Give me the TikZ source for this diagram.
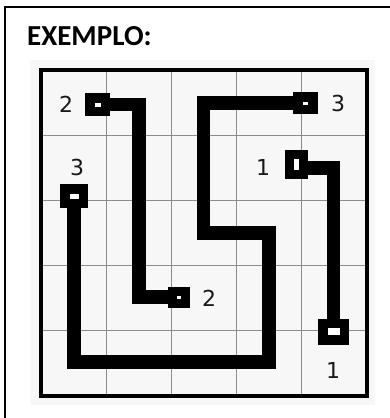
\documentclass[tikz,border=0pt]{standalone}
\usepackage{fontspec}
\setmainfont{Carlito}
\newfontfamily\digitfont{DejaVu Sans}
\begin{document}
\begin{tikzpicture}[x=1pt,y=-1pt,
  route/.style={line width=13.5pt,line join=miter,draw=black},
  endbox/.style={draw=black,fill=white,rectangle,inner sep=0pt,line width=9.5pt},
  digit/.style={font=\digitfont\fontsize{22}{26}\selectfont,text=black!90,inner sep=0pt},
  gridline/.style={draw=black!45,line width=1.3pt}]
\useasboundingbox (0,0) rectangle (390,418);
\fill[white] (0,0) rectangle (390,418);
% outer frame
\draw[line width=2pt] (5,420) -- (5,7) -- (392,7);
% title
\node[anchor=base west,inner sep=0pt,font=\bfseries\fontsize{29}{33}\selectfont] (title) at (27,45) {EXEMPLO:};
% panel
\fill[black!3] (30,60) rectangle (375,405);
% grid
\foreach \k in {1,2,3,4}{
  \draw[gridline] ({41+65.2*\k},70) -- ({41+65.2*\k},396);
  \draw[gridline] (41,{70+65.2*\k}) -- (367,{70+65.2*\k});
}
\draw[line width=3.5pt] (41,70) rectangle (367,396);
% coordinates
\coordinate (A1) at (97.5,104.5);
\coordinate (A2) at (179,297);
\coordinate (Ac1) at (139,104);
\coordinate (Ac2) at (139,297);
\coordinate (B1) at (305.5,103);
\coordinate (B2) at (74,196);
\coordinate (Bc1) at (203.5,103);
\coordinate (Bc2) at (203.5,233);
\coordinate (Bc3) at (269,233);
\coordinate (Bc4) at (269,362);
\coordinate (Bc5) at (74,362);
\coordinate (C1) at (296.5,164.5);
\coordinate (C2) at (333.5,331.5);
\coordinate (Cc1) at (333.5,168);
% routes
\draw[route] (A1) -- (A1 -| Ac1) -- (Ac2) -- (A2);
\draw[route] (B1) -- (Bc1) -- (Bc2) -- (Bc3) -- (Bc4) -- (Bc5) -- (B2);
\draw[route] (C1 |- Cc1) -- (Cc1) -- (C2);
% end boxes
\node[endbox,minimum width=15.5pt,minimum height=13.5pt] (nA1) at (A1) {};
\node[endbox,line width=9pt,minimum width=13pt,minimum height=12pt] (nA2) at (A2) {};
\node[endbox,minimum width=15pt,minimum height=12.5pt] (nB1) at (B1) {};
\node[endbox,minimum width=18.5pt,minimum height=14.5pt] (nB2) at (B2) {};
\node[endbox,line width=9pt,minimum width=14pt,minimum height=20pt] (nC1) at (C1) {};
\node[endbox,minimum width=21.5pt,minimum height=16.5pt] (nC2) at (C2) {};
% digits
\node[digit] (dA1) at (66,104) {2};
\node[digit] (dA2) at (209,298) {2};
\node[digit] (dB1) at (338,103) {3};
\node[digit] (dB2) at (77,167) {3};
\node[digit] (dC1) at (263,167) {1};
\node[digit] (dC2) at (333,370) {1};
\end{tikzpicture}
\end{document}
